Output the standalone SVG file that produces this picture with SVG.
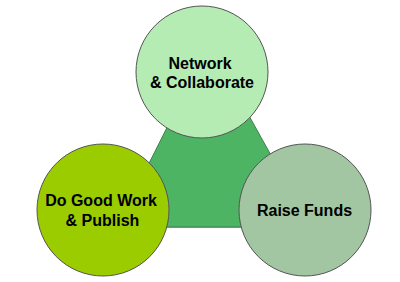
<svg xmlns="http://www.w3.org/2000/svg" width="400" height="282" viewBox="0 0 400 282">
  <style>
    .node { stroke: #555555; stroke-width: 1; }
    .lbl { font-family: "Liberation Sans", Arial, sans-serif; font-size: 16px; font-weight: bold; fill: #000000; text-anchor: middle; }
  </style>
  <rect width="400" height="282" fill="#ffffff"/>
  <g id="triangle">
    <polygon points="209,44 311,227 117,227" fill="#4db464" stroke="#3f7f50" stroke-width="1"/>
    <line x1="117" y1="227.5" x2="311" y2="227.5" stroke="#8a8a8a" stroke-width="1"/>
  </g>
  <g id="connectors"></g>
  <g id="network">
    <circle class="node" cx="202" cy="72" r="66" fill="#b4ecb4"/>
    <text class="lbl" x="200" y="68.5">Network</text>
    <text class="lbl" x="202" y="87.5">&amp; Collaborate</text>
  </g>
  <g id="work">
    <circle class="node" cx="103" cy="210" r="66" fill="#9acc00"/>
    <text class="lbl" x="101" y="206">Do Good Work</text>
    <text class="lbl" x="102.5" y="225.5">&amp; Publish</text>
  </g>
  <g id="funds">
    <circle class="node" cx="305" cy="210" r="66" fill="#a1c6a1"/>
    <text class="lbl" x="304.5" y="216">Raise Funds</text>
  </g>
</svg>
